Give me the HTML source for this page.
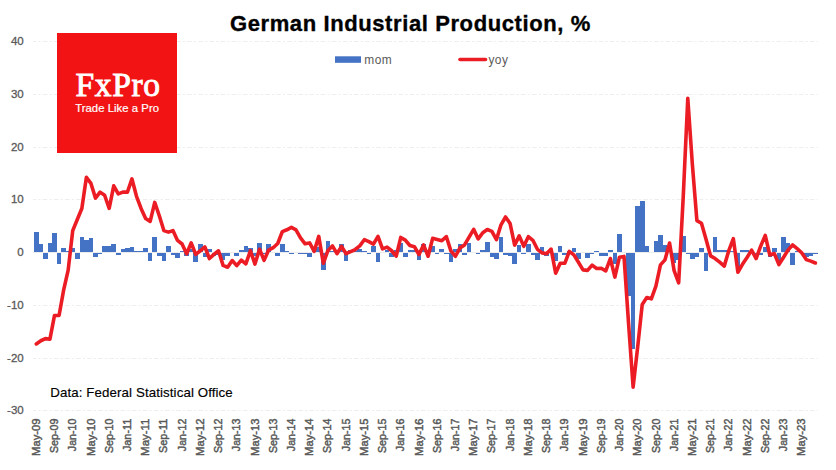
<!DOCTYPE html>
<html><head><meta charset="utf-8"><style>
html,body{margin:0;padding:0;background:#fff;}
body{width:836px;height:470px;overflow:hidden;position:relative;}
svg{position:absolute;left:0;top:0;}
.yl{font-family:"Liberation Sans",sans-serif;font-size:11.5px;fill:#595959;stroke:#595959;stroke-width:0.3px;}
.xl{font-family:"Liberation Sans",sans-serif;font-size:11px;fill:#595959;stroke:#595959;stroke-width:0.45px;}
.t{font-family:"Liberation Sans",sans-serif;font-weight:bold;font-size:22px;fill:#000;letter-spacing:0.6px;stroke:#000;stroke-width:0.35px;}
.lg{font-family:"Liberation Sans",sans-serif;font-size:11.9px;fill:#595959;letter-spacing:0.5px;}
.src{font-family:"Liberation Sans",sans-serif;font-size:13.3px;fill:#000;letter-spacing:0.1px;stroke:#000;stroke-width:0.15px;}
</style></head><body>
<svg width="836" height="470" viewBox="0 0 836 470">
<rect x="0" y="0" width="836" height="470" fill="#fff"/>
<line x1="33" y1="41.5" x2="818" y2="41.5" stroke="#eeeeee" stroke-width="1" stroke-dasharray="4.67,2.15,2.15,2.15" stroke-dashoffset="1.44"/><line x1="33" y1="94.5" x2="818" y2="94.5" stroke="#eeeeee" stroke-width="1" stroke-dasharray="4.67,2.15,2.15,2.15" stroke-dashoffset="1.44"/><line x1="33" y1="147.5" x2="818" y2="147.5" stroke="#eeeeee" stroke-width="1" stroke-dasharray="4.67,2.15,2.15,2.15" stroke-dashoffset="1.44"/><line x1="33" y1="199.5" x2="818" y2="199.5" stroke="#eeeeee" stroke-width="1" stroke-dasharray="4.67,2.15,2.15,2.15" stroke-dashoffset="1.44"/><line x1="33" y1="305.5" x2="818" y2="305.5" stroke="#eeeeee" stroke-width="1" stroke-dasharray="4.67,2.15,2.15,2.15" stroke-dashoffset="1.44"/><line x1="33" y1="358.5" x2="818" y2="358.5" stroke="#eeeeee" stroke-width="1" stroke-dasharray="4.67,2.15,2.15,2.15" stroke-dashoffset="1.44"/><line x1="33" y1="410.5" x2="818" y2="410.5" stroke="#eeeeee" stroke-width="1" stroke-dasharray="4.67,2.15,2.15,2.15" stroke-dashoffset="1.44"/><text x="23.7" y="45.36" text-anchor="end" class="yl">40</text><text x="23.7" y="98.07" text-anchor="end" class="yl">30</text><text x="23.7" y="150.78" text-anchor="end" class="yl">20</text><text x="23.7" y="203.49" text-anchor="end" class="yl">10</text><text x="23.7" y="256.20" text-anchor="end" class="yl">0</text><text x="23.7" y="308.91" text-anchor="end" class="yl">-10</text><text x="23.7" y="361.62" text-anchor="end" class="yl">-20</text><text x="23.7" y="414.33" text-anchor="end" class="yl">-30</text>
<path fill="#4472c4" shape-rendering="crispEdges" d="M34 232H39V252H34ZM39 244H43V252H39ZM43 253H48V259H43ZM48 243H52V252H48ZM52 233H57V252H52ZM57 253H61V264H57ZM61 248H66V252H61ZM66 251H70V252H66ZM70 248H75V252H70ZM75 253H80V259H75ZM80 237H84V252H80ZM84 240H89V252H84ZM89 238H93V252H89ZM93 253H98V257H93ZM98 253H102V254H98ZM102 246H107V252H102ZM107 246H111V252H107ZM111 244H116V252H111ZM116 253H121V255H116ZM121 249H125V252H121ZM125 248H130V252H125ZM130 247H134V252H130ZM134 251H139V252H134ZM139 251H143V252H139ZM143 248H148V252H143ZM148 253H152V261H148ZM152 237H157V252H152ZM157 253H162V256H157ZM162 253H166V261H162ZM166 246H171V252H166ZM171 253H175V255H171ZM175 253H180V258H175ZM180 251H184V252H180ZM184 253H189V256H184ZM189 249H193V252H189ZM193 253H198V262H193ZM198 244H203V252H198ZM203 253H207V257H203ZM207 249H212V252H207ZM212 253H216V256H212ZM216 253H221V255H216ZM221 253H225V260H221ZM225 253H230V256H225ZM234 253H239V256H234ZM239 250H244V252H239ZM244 246H248V252H244ZM248 248H253V252H248ZM253 253H257V256H253ZM257 243H262V252H257ZM262 253H266V254H262ZM266 244H271V252H266ZM275 253H280V256H275ZM280 244H285V252H280ZM285 251H289V252H285ZM289 253H294V254H289ZM298 253H303V254H298ZM303 253H307V254H303ZM307 253H312V257H307ZM312 251H316V252H312ZM316 247H321V252H316ZM321 253H326V270H321ZM326 241H330V252H326ZM330 251H335V252H330ZM335 253H339V254H335ZM339 244H344V252H339ZM344 253H348V261H344ZM348 250H353V252H348ZM353 251H357V252H353ZM357 249H362V252H357ZM362 251H367V252H362ZM367 253H371V254H367ZM371 246H376V252H371ZM376 253H380V262H376ZM385 250H389V252H385ZM389 253H394V257H389ZM394 250H398V252H394ZM398 243H403V252H398ZM403 253H408V257H403ZM408 250H412V252H408ZM412 250H417V252H412ZM417 253H421V260H417ZM421 244H426V252H421ZM426 253H430V254H426ZM430 246H435V252H430ZM435 253H439V254H435ZM439 249H444V252H439ZM444 253H449V254H444ZM449 253H453V262H449ZM453 249H458V252H453ZM458 244H462V252H458ZM462 253H467V255H462ZM467 243H471V252H467ZM476 253H480V254H476ZM480 250H485V252H480ZM485 242H490V252H485ZM490 253H494V257H490ZM494 253H499V259H494ZM499 237H503V252H499ZM503 253H508V255H503ZM508 253H512V256H508ZM512 253H517V264H512ZM517 245H521V252H517ZM521 253H526V254H521ZM526 244H531V252H526ZM531 253H535V255H531ZM535 253H540V260H535ZM540 247H544V252H540ZM544 253H549V256H544ZM549 249H553V252H549ZM553 253H558V261H553ZM558 246H562V252H558ZM562 253H567V255H562ZM567 251H572V252H567ZM572 248H576V252H572ZM576 253H581V259H576ZM585 253H590V258H585ZM590 253H594V254H590ZM594 251H599V252H594ZM599 253H604V256H599ZM604 253H608V256H604ZM608 250H613V252H608ZM613 253H617V264H613ZM617 234H622V252H617ZM626 253H631V296H626ZM631 253H635V349H631ZM635 206H640V252H635ZM640 201H645V252H640ZM645 246H649V252H645ZM654 241H658V252H654ZM658 235H663V252H658ZM663 245H667V252H663ZM672 253H676V263H672ZM676 253H681V260H676ZM681 236H686V252H681ZM686 253H690V254H686ZM690 253H695V259H690ZM695 253H699V257H695ZM699 248H704V252H699ZM704 253H708V271H704ZM713 237H717V252H713ZM717 250H722V252H717ZM722 250H727V252H722ZM727 251H731V252H727ZM731 251H736V252H731ZM736 253H740V271H736ZM740 250H745V252H740ZM745 250H749V252H745ZM749 251H754V252H749ZM754 253H758V255H754ZM758 253H763V255H758ZM763 247H768V252H763ZM768 253H772V257H768ZM772 248H777V252H772ZM777 253H781V264H777ZM781 237H786V252H781ZM786 243H790V252H786ZM790 253H795V265H790ZM795 251H799V252H795ZM804 253H809V257H804ZM809 253H813V256H809ZM813 253H818V254H813Z"/>
<line x1="33" y1="252.5" x2="818" y2="252.5" stroke="#ececec" stroke-width="1"/>
<polyline points="36.28,343.92 40.84,340.75 45.39,338.64 49.95,339.17 54.50,315.45 59.06,315.45 63.62,290.15 68.17,270.12 72.73,230.59 77.28,219.52 81.84,208.45 86.40,177.35 90.95,183.41 95.51,198.12 100.06,192.11 104.62,195.27 109.18,208.29 113.73,185.79 118.29,193.90 122.84,192.11 127.40,192.11 131.96,178.93 136.51,196.33 141.07,208.45 145.62,218.47 150.18,221.36 154.74,202.39 159.29,215.72 163.85,230.59 168.40,232.17 172.96,230.59 177.52,240.39 182.07,243.98 186.63,253.78 191.18,242.82 195.74,254.31 200.30,250.78 204.85,246.93 209.41,258.53 213.96,254.31 218.52,250.78 223.08,265.38 227.63,267.22 232.19,260.53 236.74,265.64 241.30,260.05 245.86,263.85 250.41,250.72 254.97,264.06 259.52,249.30 264.08,260.26 268.64,250.09 273.19,247.72 277.75,243.50 282.30,231.59 286.86,229.80 291.42,227.37 295.97,229.80 300.53,237.97 305.08,243.77 309.64,242.92 314.20,251.30 318.75,236.39 323.31,263.27 327.86,250.72 332.42,245.87 336.98,253.68 341.53,246.40 346.09,253.68 350.64,251.67 355.20,249.51 359.76,245.87 364.31,239.71 368.87,241.71 373.42,244.14 377.98,236.39 382.54,248.88 387.09,247.09 391.65,250.72 396.20,256.15 400.76,237.44 405.32,240.08 409.87,245.51 414.43,246.72 418.98,254.47 423.54,244.93 428.10,256.26 432.65,238.34 437.21,239.50 441.76,240.71 446.32,236.55 450.88,250.88 455.43,256.26 459.99,247.88 464.54,244.93 469.10,237.12 473.66,229.38 478.21,238.92 482.77,232.70 487.32,229.53 491.88,231.33 496.44,239.71 500.99,224.79 505.55,216.99 510.10,223.53 514.66,245.08 519.22,235.86 523.77,246.30 528.33,236.70 532.88,240.29 537.44,249.30 542.00,252.89 546.55,253.78 551.11,249.04 555.66,273.28 560.22,263.27 564.78,263.27 569.33,251.41 573.89,254.84 578.44,262.21 583.00,269.86 587.56,270.38 592.11,265.11 596.67,268.54 601.22,268.28 605.78,270.91 610.34,258.53 614.89,277.08 619.45,257.21 624.00,256.42 628.56,323.36 633.12,387.14 637.67,347.08 642.23,304.38 646.78,297.53 651.34,298.85 655.90,286.20 660.45,264.85 665.01,259.84 669.56,242.98 674.12,270.65 678.68,282.77 683.23,196.85 687.79,98.29 692.34,164.17 696.90,220.57 701.46,223.21 706.01,239.29 710.57,255.89 715.12,258.53 719.68,262.21 724.24,266.12 728.79,250.62 733.35,238.65 737.90,272.23 742.46,264.32 747.02,257.47 751.57,250.09 756.13,258.53 760.68,246.09 765.24,235.33 769.80,254.99 774.35,253.57 778.91,264.59 783.46,257.47 788.02,250.09 792.58,244.93 797.13,248.62 801.69,252.73 806.24,259.58 810.80,261.16 815.36,263.01" fill="none" stroke="#ec1c24" stroke-width="3.6" stroke-linejoin="round" stroke-linecap="round"/>
<text transform="translate(39.88,418.6) rotate(-90)" text-anchor="end" class="xl" textLength="37.3" lengthAdjust="spacingAndGlyphs">May-09</text><text transform="translate(58.10,418.6) rotate(-90)" text-anchor="end" class="xl" textLength="34.4" lengthAdjust="spacingAndGlyphs">Sep-09</text><text transform="translate(76.33,418.6) rotate(-90)" text-anchor="end" class="xl" textLength="32.6" lengthAdjust="spacingAndGlyphs">Jan-10</text><text transform="translate(94.55,418.6) rotate(-90)" text-anchor="end" class="xl" textLength="37.3" lengthAdjust="spacingAndGlyphs">May-10</text><text transform="translate(112.78,418.6) rotate(-90)" text-anchor="end" class="xl" textLength="34.4" lengthAdjust="spacingAndGlyphs">Sep-10</text><text transform="translate(131.00,418.6) rotate(-90)" text-anchor="end" class="xl" textLength="32.6" lengthAdjust="spacingAndGlyphs">Jan-11</text><text transform="translate(149.22,418.6) rotate(-90)" text-anchor="end" class="xl" textLength="37.3" lengthAdjust="spacingAndGlyphs">May-11</text><text transform="translate(167.45,418.6) rotate(-90)" text-anchor="end" class="xl" textLength="34.4" lengthAdjust="spacingAndGlyphs">Sep-11</text><text transform="translate(185.67,418.6) rotate(-90)" text-anchor="end" class="xl" textLength="32.6" lengthAdjust="spacingAndGlyphs">Jan-12</text><text transform="translate(203.90,418.6) rotate(-90)" text-anchor="end" class="xl" textLength="37.3" lengthAdjust="spacingAndGlyphs">May-12</text><text transform="translate(222.12,418.6) rotate(-90)" text-anchor="end" class="xl" textLength="34.4" lengthAdjust="spacingAndGlyphs">Sep-12</text><text transform="translate(240.34,418.6) rotate(-90)" text-anchor="end" class="xl" textLength="32.6" lengthAdjust="spacingAndGlyphs">Jan-13</text><text transform="translate(258.57,418.6) rotate(-90)" text-anchor="end" class="xl" textLength="37.3" lengthAdjust="spacingAndGlyphs">May-13</text><text transform="translate(276.79,418.6) rotate(-90)" text-anchor="end" class="xl" textLength="34.4" lengthAdjust="spacingAndGlyphs">Sep-13</text><text transform="translate(295.02,418.6) rotate(-90)" text-anchor="end" class="xl" textLength="32.6" lengthAdjust="spacingAndGlyphs">Jan-14</text><text transform="translate(313.24,418.6) rotate(-90)" text-anchor="end" class="xl" textLength="37.3" lengthAdjust="spacingAndGlyphs">May-14</text><text transform="translate(331.46,418.6) rotate(-90)" text-anchor="end" class="xl" textLength="34.4" lengthAdjust="spacingAndGlyphs">Sep-14</text><text transform="translate(349.69,418.6) rotate(-90)" text-anchor="end" class="xl" textLength="32.6" lengthAdjust="spacingAndGlyphs">Jan-15</text><text transform="translate(367.91,418.6) rotate(-90)" text-anchor="end" class="xl" textLength="37.3" lengthAdjust="spacingAndGlyphs">May-15</text><text transform="translate(386.14,418.6) rotate(-90)" text-anchor="end" class="xl" textLength="34.4" lengthAdjust="spacingAndGlyphs">Sep-15</text><text transform="translate(404.36,418.6) rotate(-90)" text-anchor="end" class="xl" textLength="32.6" lengthAdjust="spacingAndGlyphs">Jan-16</text><text transform="translate(422.58,418.6) rotate(-90)" text-anchor="end" class="xl" textLength="37.3" lengthAdjust="spacingAndGlyphs">May-16</text><text transform="translate(440.81,418.6) rotate(-90)" text-anchor="end" class="xl" textLength="34.4" lengthAdjust="spacingAndGlyphs">Sep-16</text><text transform="translate(459.03,418.6) rotate(-90)" text-anchor="end" class="xl" textLength="32.6" lengthAdjust="spacingAndGlyphs">Jan-17</text><text transform="translate(477.26,418.6) rotate(-90)" text-anchor="end" class="xl" textLength="37.3" lengthAdjust="spacingAndGlyphs">May-17</text><text transform="translate(495.48,418.6) rotate(-90)" text-anchor="end" class="xl" textLength="34.4" lengthAdjust="spacingAndGlyphs">Sep-17</text><text transform="translate(513.70,418.6) rotate(-90)" text-anchor="end" class="xl" textLength="32.6" lengthAdjust="spacingAndGlyphs">Jan-18</text><text transform="translate(531.93,418.6) rotate(-90)" text-anchor="end" class="xl" textLength="37.3" lengthAdjust="spacingAndGlyphs">May-18</text><text transform="translate(550.15,418.6) rotate(-90)" text-anchor="end" class="xl" textLength="34.4" lengthAdjust="spacingAndGlyphs">Sep-18</text><text transform="translate(568.38,418.6) rotate(-90)" text-anchor="end" class="xl" textLength="32.6" lengthAdjust="spacingAndGlyphs">Jan-19</text><text transform="translate(586.60,418.6) rotate(-90)" text-anchor="end" class="xl" textLength="37.3" lengthAdjust="spacingAndGlyphs">May-19</text><text transform="translate(604.82,418.6) rotate(-90)" text-anchor="end" class="xl" textLength="34.4" lengthAdjust="spacingAndGlyphs">Sep-19</text><text transform="translate(623.05,418.6) rotate(-90)" text-anchor="end" class="xl" textLength="32.6" lengthAdjust="spacingAndGlyphs">Jan-20</text><text transform="translate(641.27,418.6) rotate(-90)" text-anchor="end" class="xl" textLength="37.3" lengthAdjust="spacingAndGlyphs">May-20</text><text transform="translate(659.50,418.6) rotate(-90)" text-anchor="end" class="xl" textLength="34.4" lengthAdjust="spacingAndGlyphs">Sep-20</text><text transform="translate(677.72,418.6) rotate(-90)" text-anchor="end" class="xl" textLength="32.6" lengthAdjust="spacingAndGlyphs">Jan-21</text><text transform="translate(695.94,418.6) rotate(-90)" text-anchor="end" class="xl" textLength="37.3" lengthAdjust="spacingAndGlyphs">May-21</text><text transform="translate(714.17,418.6) rotate(-90)" text-anchor="end" class="xl" textLength="34.4" lengthAdjust="spacingAndGlyphs">Sep-21</text><text transform="translate(732.39,418.6) rotate(-90)" text-anchor="end" class="xl" textLength="32.6" lengthAdjust="spacingAndGlyphs">Jan-22</text><text transform="translate(750.62,418.6) rotate(-90)" text-anchor="end" class="xl" textLength="37.3" lengthAdjust="spacingAndGlyphs">May-22</text><text transform="translate(768.84,418.6) rotate(-90)" text-anchor="end" class="xl" textLength="34.4" lengthAdjust="spacingAndGlyphs">Sep-22</text><text transform="translate(787.06,418.6) rotate(-90)" text-anchor="end" class="xl" textLength="32.6" lengthAdjust="spacingAndGlyphs">Jan-23</text><text transform="translate(805.29,418.6) rotate(-90)" text-anchor="end" class="xl" textLength="37.3" lengthAdjust="spacingAndGlyphs">May-23</text>
<text x="230" y="31" class="t">German Industrial Production, %</text>
<rect x="335" y="56.3" width="26" height="6.5" fill="#4472c4"/>
<text x="364.3" y="64" class="lg">mom</text>
<line x1="460" y1="59.5" x2="485.5" y2="59.5" stroke="#ec1c24" stroke-width="3.6" stroke-linecap="round"/>
<text x="488.4" y="64" class="lg">yoy</text>
<text x="50.3" y="397" class="src">Data: Federal Statistical Office</text>
<rect x="57" y="33" width="120" height="120" fill="#f21414"/>
<text x="75.6" y="95.8" font-family="Liberation Serif" font-size="33.5" letter-spacing="0.6" fill="#fff" stroke="#fff" stroke-width="0.9">FxPro</text>
<text x="75.2" y="111.7" font-family="Liberation Sans" font-size="11.3" letter-spacing="0.05" fill="#fff" stroke="#fff" stroke-width="0.2">Trade Like a Pro</text>
</svg>
</body></html>
